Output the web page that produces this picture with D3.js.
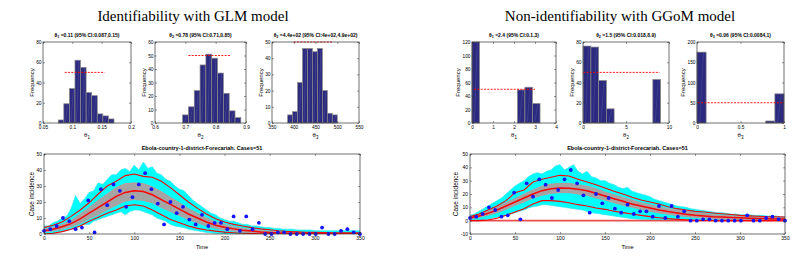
<!DOCTYPE html>
<html><head><meta charset="utf-8">
<script src="https://cdn.jsdelivr.net/npm/d3@7"></script>
<style>body{margin:0;background:#fff}svg{display:block}</style>
</head><body>
<svg id="c" width="799" height="263"></svg>
<script>
// ---------------- DATA ----------------
const panelTitles = ["Identifiability with GLM model", "Non-identifiability with GGoM model"];
const forecastTitle = "Ebola-country-1-district-Forecariah. Cases=51";

// Histograms (bin starts, bin width, counts, 95% CI)
const histL1Starts = [0.076,0.0855,0.095,0.1045,0.114,0.1235,0.133,0.1425,0.152,0.1615];
const histL1Counts = [3,19,34,62,55,30,27,9,7,4];
const histL2Starts = [0.691,0.7102,0.7294,0.7486,0.7678,0.787,0.8062,0.8254,0.8446,0.8638];
const histL2Counts = [6,12,24,43,51,48,37,22,9,4];
const histL3Starts = [386,397.4,408.8,420.2,431.6,443,454.4,465.8,477.2,488.6];
const histL3Counts = [5,7,25,46,46,44,46,20,6,5];
const histR1Starts = [0,2.16,2.52,2.88];
const histR1Counts = [120,49,53,29];
const histR2Starts = [0.02,0.92,1.82,2.72,8.12];
const histR2Counts = [76,75,42,14,43];
const histR3Starts = [0,0.79,0.895];
const histR3Counts = [175,5,72];
const binWidths = [0.0095,0.0192,11.4,0.36,0.9,0.105];
const ciBounds = [[0.087,0.155],[0.71,0.85],[400,490],[0.1,3],[0.018,8.9],[0.0084,1]];
const ciLevel = 50;
const histParamLabel = ["θ","θ","θ","θ","θ","θ"];
const histParamSub = ["1","2","3","1","2","3"];
const histTitleRest = [" =0.11 (95% CI:0.087,0.15)"," =0.78 (95% CI:0.71,0.85)"," =4.4e+02 (95% CI:4e+02,4.9e+02)",
  " =2.4 (95% CI:0.1,3)"," =1.5 (95% CI:0.018,8.9)"," =0.06 (95% CI:0.0084,1)"];
const histXTicks = [[0.05,0.1,0.15,0.2],[0.6,0.7,0.8,0.9],[350,400,450,500,550],[0,1,2,3,4],[0,5,10],[0,0.5,1]];
const histYTicks = [[0,20,40,60,80],[0,10,20,30,40,50,60],[0,10,20,30,40,50],[0,20,40,60,80,100,120],[0,20,40,60,80],[0,50,100,150,200]];

// Observed weekly cases
const obsDays = [0,7,14,21,28,35,42,49,56,63,70,77,84,91,98,105,112,119,126,133,140,147,154,161,168,175,182,189,196,203,210,217,224,231,238,245,252,259,266,273,280,287,294,301,308,315,322,329,336,343,350];
const obsCases = [2,3,5,10,8,3,4,21,1,28,18,31,27,17,23,31,38,28,19,6,20,13,17,9,6,12,5,7,7,3,11,2,11,3,7,0,0,1,1,0,0,0,0,0,4,0,0,2,3,1,0];

// Time grids for the fitted bands
const grid5 = [0,5,10,15,20,25,30,35,40,45,50,55,60,65,70,75,80,85,90,95,100,105,110,115,120,125,130,135,140,145,150,155,160,165,170,175,180,185,190,195,200,205,210,215,220,225,230,235,240,245,250,255,260,265,270,275,280,285,290,295,300,305,310,315,320,325,330,335,340,345,350];
const grid10 = [0,10,20,30,40,50,60,70,80,90,100,110,120,130,140,150,160,170,180,190,200,210,220,230,240,250,260,270,280,290,300,310,320,330,340,350];

// GLM (left)
const leftCyanHi = [5,5,7,8,10,11,16,24,19,22, 26,27,32,31,34,37,37,40,41,39, 43,40,45,41,42,38,37,34,33,30, 28,27,24,21,19,17,15,13,12,10, 9,8,8,7,6,6,5,5,4.5,4, 4,3.5,3.5,3,3,3,2.5,2.5,2.5,2.5, 2,2,2,2,2,2,2,2,2,2, 2];
const leftCyanLo = [0,0,0.5,1,1.5,2,3,3.5,5,6, 6,8,9,10,11,12,13,14,12,14, 15,15,14,13,12,10,9,8,6,5, 4.5,4,3,2.5,2,1.5,1,0.8,0.5,0.3, 0,0,0,0,0,0,0,0,0,0, 0,0,0,0,0,0,0,0,0,0, 0,0,0,0,0,0,0,0,0,0, 0];
const leftPIHi = [4,5.5,7.5,11,15,19.5,25,30,33,36.5, 37.5,36,35.5,33,29,24.5,20,16,12.5,9.5, 7.5,6,5,4,3.2,2.7,2,1.6,1.3,1.1, 1,0.9,0.8,0.8,0.7,0.7];
const leftPILo = [0,0.5,1.5,3,5,8,10.5,13,15,17.5, 18.3,17.5,15,12,9,7,5,3.5,2.5,1.8, 1.2,0.8,0.5,0.3,0.2,0.1,0,0,0,0, 0,0,0,0,0,0];
const leftMean = [2,3,4.5,6.5,9.5,13,16.5,20,23.5,26, 27,26.5,24.5,21.5,18.5,15.5,12.5,10,7.5,5.5, 4.2,3.2,2.4,1.8,1.3,1,0.7,0.5,0.4,0.3, 0.2,0.15,0.1,0.1,0.05,0];
const leftGreyHi = [2.8,4.2,6,8.5,12.5,16.5,21,25,29,31.5, 32,31.5,29.5,26.5,23,19.5,16,13,10,7.5, 6,4.6,3.6,2.8,2.2,1.7,1.3,1,0.8,0.6, 0.5,0.4,0.3,0.3,0.2,0.2];
const leftGreyLo = [1.3,1.9,3,4.5,6.5,9.5,12,15,18,20.5, 21.5,21,19.5,16.5,14,11.5,9,7,5,3.5, 2.5,1.8,1.3,0.9,0.6,0.4,0.2,0.1,0.05,0, 0,0,0,0,0,0];

// GGoM (right)
const rightCyanHi = [4,5,7,9,11,13,15,17,20,23, 26,28,30,33,35,36,35,37,38,41, 42,38,40,42,37,35,37,33,32,30, 30,28,27,25,24,25,22,21,20,19, 18,16,15,14,13,12,11,10.5,10,9, 8.5,8,7.5,7,6.5,6,6,5.5,5,5, 4.5,4.5,4.5,4,4,4,3.5,3.5,3.5,3, 3];
const rightCyanLo = [0,0,0,0.5,1,2,2.5,3,4,5, 6,7,8,9.5,10.5,11,12,12,11.5,11, 10.5,10,9.5,9,8.5,8,7,6,5.5,5, 4.5,4,3.5,3,2.5,2,1.5,1.2,1,0.8, 0.5,0.3,0.2,0,0,0,0,0,0,0, 0,0,0,0,0,0,0,0,0,0, 0,0,0,0,0,0,0,0,0,0, 0];
const rightPIHi = [3,5,8,11,15,21,23,29,31,32.5, 34,33.5,31,29,27,24.5,22,20,17.5,15.5, 14,12.5,10.5,9,8,7,6.5,5.8,5.2,4.6, 4,3.6,3.3,3,2.9,2.8];
const rightPILo = [0,0,0.5,1.8,4,6.5,9,12.5,15,15, 14.5,13.5,12,11,9.5,8.5,7,6,5,4, 3,2.2,1.5,1,0.6,0.3,0.1,0,0,0, 0,0,0,0,0,0];
const rightMean = [2,3.5,5.5,8,11,14,17,20,22.5,24, 24.5,24.3,23.5,22.5,20.5,18.5,16.5,14.5,12.5,11, 9.5,8,6.8,5.8,4.8,4,3.5,3,2.7,2.4, 2.1,1.9,1.7,1.5,1.3,1.2];
const rightGreyHi = [2.5,4.5,7,10,13.5,16.5,20,23,26,27.5, 28,28,27,26,24,21.5,19.5,17.5,15.5,13.5, 12,10.5,9,8,7,6,5.3,4.6,4,3.6, 3.2,2.9,2.6,2.4,2.2,2];
const rightGreyLo = [1.2,2.5,4,6,8.5,11.5,14,17,19,20.5, 21,21,20,19,17,15.5,13.5,11.5,10,8.5, 7,5.8,4.8,3.8,3,2.4,1.9,1.5,1.2,1, 0.8,0.6,0.5,0.4,0.3,0.3];
const rightFloorDays = [0,350];
const rightFloorVals = [0,0];

const forecastXTicks = [0,50,100,150,200,250,300,350];
const leftYTicks = [0,10,20,30,40,50];
const rightYTicks = [-10,0,10,20,30,40,50];

// ---------------- DRAWING ----------------
const FONT = '"Liberation Sans", Arial, Helvetica, sans-serif';
const svg = d3.select('#c');
svg.append('rect').attr('width',799).attr('height',263).attr('fill','#fff');

function axes(g, x, y, xt, yt, fs, padX, padY) {
  const [x0, x1] = x.range();
  const [yb, yt0] = y.range();
  const style = sel => {
    sel.select('.domain').remove();
    sel.selectAll('.tick line').attr('stroke','#333').attr('stroke-width',0.5);
    sel.selectAll('text').attr('font-family',FONT).attr('font-size',fs).attr('fill','#000');
  };
  g.append('g').attr('transform',`translate(0,${yb})`)
    .call(d3.axisBottom(x).tickValues(xt).tickSize(-2).tickPadding(padX).tickFormat(d=>String(d))).call(style);
  g.append('g').attr('transform',`translate(0,${yt0})`)
    .call(d3.axisTop(x).tickValues(xt).tickSize(-2).tickFormat('')).call(style);
  const la = g.append('g').attr('transform',`translate(${x0},0)`)
    .call(d3.axisLeft(y).tickValues(yt).tickSize(-2).tickPadding(padY).tickFormat(d=>String(d))).call(style);
  g.append('g').attr('transform',`translate(${x1},0)`)
    .call(d3.axisRight(y).tickValues(yt).tickSize(-2).tickFormat('')).call(style);
  g.append('rect').attr('x',x0).attr('y',yt0).attr('width',x1-x0).attr('height',yb-yt0)
    .attr('fill','none').attr('stroke','#333').attr('stroke-width',0.7);
  let minX = 0;
  la.selectAll('text').each(function(){ const b = this.getBBox(); minX = Math.min(minX, b.x); });
  return x0 + minX;
}

function subText(g, x, y, main, sub, rest, fs, weight) {
  const t = g.append('text').attr('x',x).attr('y',y).attr('text-anchor','middle')
    .attr('font-family',FONT).attr('font-size',fs).attr('font-weight',weight||'normal');
  t.append('tspan').text(main);
  t.append('tspan').attr('dy',fs*0.3).attr('font-size',fs*0.75).text(sub);
  if (rest) t.append('tspan').attr('dy',-fs*0.3).text(rest);
  return t;
}

const histBoxes = [[43,131],[155,246],[272,359],[472,556],[583,669],[697,784]];
const histStarts = [histL1Starts,histL2Starts,histL3Starts,histR1Starts,histR2Starts,histR3Starts];
const histCounts = [histL1Counts,histL2Counts,histL3Counts,histR1Counts,histR2Counts,histR3Counts];

histBoxes.forEach((bx, i) => {
  const xt = histXTicks[i], yt = histYTicks[i];
  const x = d3.scaleLinear().domain([xt[0], xt[xt.length-1]]).range(bx);
  const y = d3.scaleLinear().domain([yt[0], yt[yt.length-1]]).range([123, 42]);
  const g = svg.append('g');
  const bw = binWidths[i];
  const bars = histStarts[i].map((s, j) => ({s, c: histCounts[i][j]}));
  g.selectAll('rect.bar').data(bars).join('rect').attr('class','bar')
    .attr('x', d => x(d.s)).attr('width', d => x(d.s + bw) - x(d.s))
    .attr('y', d => y(d.c)).attr('height', d => y(0) - y(d.c))
    .attr('fill','#2c2a7e').attr('stroke','#8a8a8a').attr('stroke-width',0.7);
  g.selectAll('line.streak').data(bars.filter(d => y(0) - y(d.c) > 4)).join('line').attr('class','streak')
    .attr('x1', d => x(d.s) + (x(d.s + bw) - x(d.s)) * 0.3).attr('y1', y(0) - 1)
    .attr('x2', d => x(d.s) + (x(d.s + bw) - x(d.s)) * 0.7).attr('y2', d => y(d.c) + 1)
    .attr('stroke','#7b79c0').attr('stroke-width',0.4).attr('opacity',0.6);
  g.append('line').attr('x1', x(ciBounds[i][0])).attr('x2', x(ciBounds[i][1]))
    .attr('y1', y(ciLevel)).attr('y2', y(ciLevel))
    .attr('stroke','#ff0000').attr('stroke-width',0.9).attr('stroke-dasharray','2,1.3');
  const lx = axes(g, x, y, xt, yt, 4.8, 2.2, 1.5);
  const cx = (bx[0] + bx[1]) / 2;
  subText(g, cx, 36.5, histParamLabel[i], histParamSub[i], histTitleRest[i], 5, 'bold');
  subText(g, cx, 137, histParamLabel[i], histParamSub[i], null, 6, 'normal');
  g.append('text').attr('transform',`translate(${lx - 2.5},${(42+123)/2}) rotate(-90)`)
    .attr('text-anchor','middle').attr('font-family',FONT).attr('font-size',6).text('Frequency');
});

function drawForecast(o) {
  const x = d3.scaleLinear().domain([0, 350]).range(o.xr);
  const y = d3.scaleLinear().domain([o.yTicks[0], o.yTicks[o.yTicks.length-1]]).range([234, 154]);
  const g = svg.append('g');
  const cid = 'clip' + o.id;
  g.append('clipPath').attr('id', cid).append('rect')
    .attr('x', o.xr[0]).attr('y', 154).attr('width', o.xr[1]-o.xr[0]).attr('height', 80);
  const p = g.append('g').attr('clip-path', `url(#${cid})`);
  const band = (ts, lo, hi) => d3.area().x((d,i)=>x(ts[i])).y0((d,i)=>y(lo[i])).y1((d,i)=>y(hi[i]))(ts);
  const line = (ts, v) => d3.line().x((d,i)=>x(ts[i])).y((d,i)=>y(v[i]))(ts);
  p.append('path').attr('d', band(grid5, o.cyanLo, o.cyanHi)).attr('fill','#00ffff');
  p.append('path').attr('d', line(grid5, o.cyanHi)).attr('fill','none').attr('stroke','#2ee6ee').attr('stroke-width',0.7);
  p.append('path').attr('d', line(grid5, o.cyanLo)).attr('fill','none').attr('stroke','#2ee6ee').attr('stroke-width',0.7);
  p.append('path').attr('d', band(grid10, o.greyLo, o.greyHi)).attr('fill','#a4a4a4');
  [o.greyLo, o.greyHi].forEach(v => p.append('path').attr('d', line(grid10, v))
    .attr('fill','none').attr('stroke','#e08a8a').attr('stroke-width',0.7));
  if (o.floorDays) p.append('path').attr('d', line(o.floorDays, o.floorVals))
    .attr('fill','none').attr('stroke','#e85050').attr('stroke-width',1.8);
  [o.piLo, o.piHi].forEach(v => p.append('path').attr('d', line(grid10, v))
    .attr('fill','none').attr('stroke','#ff0000').attr('stroke-width',1.1));
  p.append('path').attr('d', line(grid10, o.mean)).attr('fill','none').attr('stroke','#ff0000').attr('stroke-width',1.5);
  g.selectAll('circle.obs').data(obsDays).join('circle').attr('class','obs')
    .attr('cx', (d)=>x(d)).attr('cy', (d,i)=>y(obsCases[i])).attr('r', 1.9).attr('fill','#1414ff');
  const lx = axes(g, x, y, forecastXTicks, o.yTicks, 5, 2.5, 2);
  const cx = (o.xr[0] + o.xr[1]) / 2;
  g.append('text').attr('x', cx).attr('y', 149.5).attr('text-anchor','middle')
    .attr('font-family',FONT).attr('font-size',5.5).attr('font-weight','bold').text(forecastTitle);
  g.append('text').attr('x', cx).attr('y', 249).attr('text-anchor','middle')
    .attr('font-family',FONT).attr('font-size',5.6).text('Time');
  g.append('text').attr('transform',`translate(${lx - 2.5},194) rotate(-90)`)
    .attr('text-anchor','middle').attr('font-family',FONT).attr('font-size',6.5).text('Case incidence');
}

drawForecast({id:'L', xr:[44,360], yTicks:leftYTicks, cyanHi:leftCyanHi, cyanLo:leftCyanLo,
  piHi:leftPIHi, piLo:leftPILo, mean:leftMean, greyHi:leftGreyHi, greyLo:leftGreyLo});
drawForecast({id:'R', xr:[470,785], yTicks:rightYTicks, cyanHi:rightCyanHi, cyanLo:rightCyanLo,
  piHi:rightPIHi, piLo:rightPILo, mean:rightMean, greyHi:rightGreyHi, greyLo:rightGreyLo,
  floorDays:rightFloorDays, floorVals:rightFloorVals});

[[193, panelTitles[0]], [620, panelTitles[1]]].forEach(([cx, t]) => {
  svg.append('text').attr('x', cx).attr('y', 21).attr('text-anchor','middle')
    .attr('font-family','"Liberation Serif","Times New Roman",serif').attr('font-size',15).text(t);
});
</script>
</body></html>
